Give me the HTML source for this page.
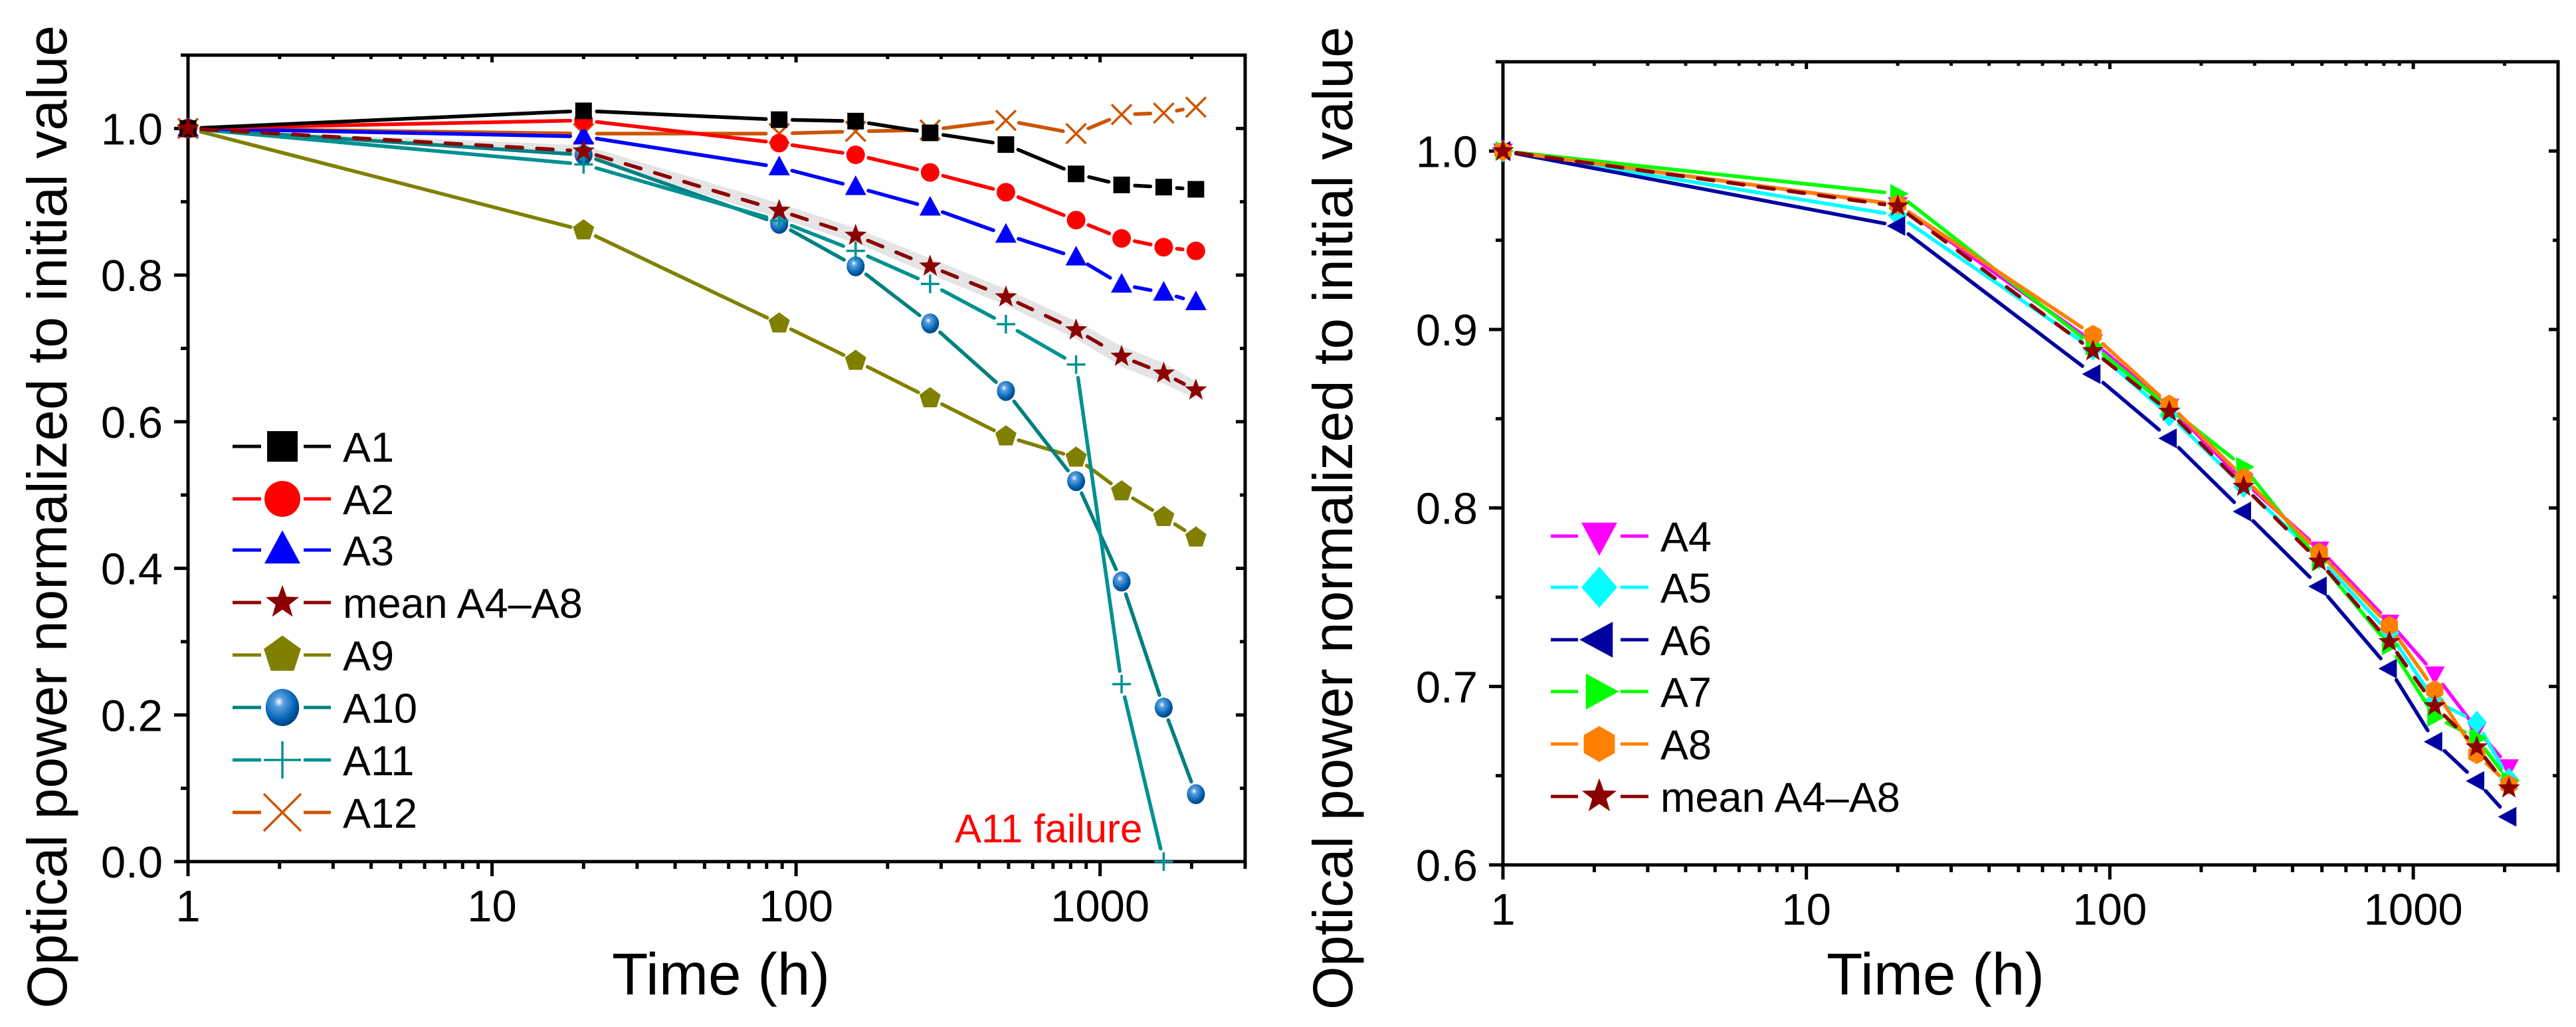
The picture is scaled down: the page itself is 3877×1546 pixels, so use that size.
<!DOCTYPE html>
<html><head><meta charset="utf-8"><style>
html,body{margin:0;padding:0;background:#fff;}
svg{display:block;font-family:"Liberation Sans",Arial,sans-serif;}
</style></head><body>
<svg id="fig" width="3877" height="1546" viewBox="0 0 3877 1546" xmlns="http://www.w3.org/2000/svg">
<defs>
<radialGradient id="sph" cx="0.4" cy="0.35" r="0.7">
<stop offset="0" stop-color="#ffffff"/><stop offset="0.2" stop-color="#5aa0e0"/><stop offset="0.7" stop-color="#0060b0"/><stop offset="1" stop-color="#003a70"/>
</radialGradient>
</defs>
<g id="left"></g>
<g id="right"></g>
</svg>
<script>
const times = [1, 20, 88, 157, 276, 490, 834, 1177, 1619, 2066];
const a1 = [1.0, 1.024, 1.012, 1.010, 0.994, 0.978, 0.938, 0.923, 0.920, 0.917];
const a2 = [1.0, 1.011, 0.980, 0.964, 0.940, 0.913, 0.875, 0.850, 0.838, 0.833];
const a3 = [1.0, 0.989, 0.947, 0.920, 0.892, 0.855, 0.824, 0.787, 0.776, 0.763];
const meanA = [1.0, 0.969, 0.888, 0.854, 0.812, 0.770, 0.725, 0.689, 0.666, 0.643];
const meanErr = [0, 0.008, 0.010, 0.010, 0.011, 0.011, 0.012, 0.014, 0.014, 0.012];
const a9 = [1.0, 0.861, 0.734, 0.683, 0.632, 0.580, 0.551, 0.505, 0.470, 0.442];
const a10 = [1.0, 0.964, 0.870, 0.812, 0.734, 0.642, 0.519, 0.382, 0.210, 0.092];
const a11 = [1.0, 0.951, 0.874, 0.833, 0.788, 0.733, 0.678, 0.242, 0.0];
const a12 = [1.0, 0.993, 0.993, 0.996, 0.998, 1.011, 0.993, 1.019, 1.021, 1.029];
const a4 = [1.0, 0.970, 0.893, 0.857, 0.815, 0.777, 0.736, 0.707, 0.676, 0.655];
const a5 = [1.0, 0.964, 0.889, 0.852, 0.812, 0.772, 0.730, 0.692, 0.680, 0.648];
const a6 = [1.0, 0.958, 0.875, 0.839, 0.798, 0.756, 0.710, 0.669, 0.647, 0.627];
const a7 = [1.0, 0.976, 0.891, 0.856, 0.823, 0.770, 0.723, 0.683, 0.671, 0.647];
const a8 = [1.0, 0.970, 0.897, 0.858, 0.817, 0.775, 0.734, 0.698, 0.662, 0.645];
const xTickLabels = ["1", "10", "100", "1000"];
const yTicksLeft = ["0.0", "0.2", "0.4", "0.6", "0.8", "1.0"];
const yTicksRight = ["0.6", "0.7", "0.8", "0.9", "1.0"];

const NS = "http://www.w3.org/2000/svg";
function mk(parent, tag, attrs, text) {
  const e = document.createElementNS(NS, tag);
  for (const k in attrs) e.setAttribute(k, attrs[k]);
  if (text !== undefined) e.textContent = text;
  parent.appendChild(e);
  return e;
}

function marker(g, type, cx, cy, s, color) {
  let e;
  const r = s / 2;
  if (type === 'square') e = mk(g, 'rect', {x: cx - r, y: cy - r, width: s, height: s, fill: color});
  else if (type === 'circle') e = mk(g, 'circle', {cx: cx, cy: cy, r: r, fill: color});
  else if (type === 'sphere') e = mk(g, 'ellipse', {cx: cx, cy: cy, rx: r * 0.9, ry: r, fill: 'url(#sph)'});
  else if (type === 'up') e = mk(g, 'polygon', {points: `${cx},${cy - r * 1.1} ${cx + r},${cy + r * 0.75} ${cx - r},${cy + r * 0.75}`, fill: color});
  else if (type === 'down') e = mk(g, 'polygon', {points: `${cx},${cy + r * 1.1} ${cx + r},${cy - r * 0.75} ${cx - r},${cy - r * 0.75}`, fill: color});
  else if (type === 'left') e = mk(g, 'polygon', {points: `${cx - r * 1.1},${cy} ${cx + r * 0.75},${cy - r} ${cx + r * 0.75},${cy + r}`, fill: color});
  else if (type === 'right') e = mk(g, 'polygon', {points: `${cx + r * 1.1},${cy} ${cx - r * 0.75},${cy - r} ${cx - r * 0.75},${cy + r}`, fill: color});
  else if (type === 'diamond') e = mk(g, 'polygon', {points: `${cx},${cy - r * 1.15} ${cx + r},${cy} ${cx},${cy + r * 1.15} ${cx - r},${cy}`, fill: color});
  else if (type === 'hex') {
    let p = [];
    for (let i = 0; i < 6; i++) { const a = Math.PI / 6 + i * Math.PI / 3; p.push((cx + r * Math.cos(a)) + ',' + (cy + r * Math.sin(a))); }
    e = mk(g, 'polygon', {points: p.join(' '), fill: color});
  } else if (type === 'pent') {
    let p = [];
    for (let i = 0; i < 5; i++) { const a = -Math.PI / 2 + i * 2 * Math.PI / 5; p.push((cx + r * 1.05 * Math.cos(a)) + ',' + (cy + r * 1.05 * Math.sin(a))); }
    e = mk(g, 'polygon', {points: p.join(' '), fill: color});
  } else if (type === 'star') {
    let p = [];
    for (let i = 0; i < 10; i++) { const a = -Math.PI / 2 + i * Math.PI / 5; const rr = i % 2 ? r * 0.45 : r * 1.1; p.push((cx + rr * Math.cos(a)) + ',' + (cy + rr * Math.sin(a))); }
    e = mk(g, 'polygon', {points: p.join(' '), fill: color});
  } else if (type === 'plus') {
    e = mk(g, 'path', {d: `M${cx - r},${cy}H${cx + r}M${cx},${cy - r}V${cy + r}`, stroke: color, 'stroke-width': 3.5, fill: 'none'});
  } else if (type === 'x') {
    e = mk(g, 'path', {d: `M${cx - r},${cy - r}L${cx + r},${cy + r}M${cx + r},${cy - r}L${cx - r},${cy + r}`, stroke: color, 'stroke-width': 3.5, fill: 'none'});
  }
  return e;
}

function chart(g, cfg) {
  const {x0, x1, y0, y1, ymin, ymax, xmax} = cfg;
  const X = t => x0 + Math.log10(t) / Math.log10(xmax) * (x1 - x0);
  const Y = v => y1 - (v - ymin) / (ymax - ymin) * (y1 - y0);
  const fr = mk(g, 'rect', {x: x0, y: y0, width: x1 - x0, height: y1 - y0, fill: 'none', stroke: '#000', 'stroke-width': 5});
  
  
  const xt = mk(g, 'g', {});
  
  
  for (let d = 0; d < 4; d++) {
    for (let m = 1; m < 10; m++) {
      const t = Math.pow(10, d) * m;
      if (t > xmax) break;
      const x = X(t);
      const major = m === 1;
      mk(xt, 'line', {x1: x, x2: x, y1: y1, y2: y1 + (major ? 22 : 11), stroke: '#000', 'stroke-width': 5});
      mk(xt, 'line', {x1: x, x2: x, y1: y0, y2: y0 + (major ? 11 : 6), stroke: '#000', 'stroke-width': 5});
    }
    const lab = mk(xt, 'text', {x: X(Math.pow(10, d)), y: y1 + 90, 'font-size': 67, 'text-anchor': 'middle'}, xTickLabels[d]);
    
    
  }
  const xtitle = mk(g, 'text', {x: cfg.xtx, y: 1497, 'font-size': 89, 'text-anchor': 'middle'}, 'Time (h)');
  
  
  const yt = mk(g, 'g', {});
  
  
  const labs = cfg.yLabels;
  const step = cfg.ystep;
  for (let v = ymin; v <= ymax + 1e-9; v += step / 2) {
    const y = Y(v);
    const k = Math.round((v - ymin) / (step / 2));
    const major = k % 2 === 0;
    mk(yt, 'line', {x1: x0 - (major ? 21 : 11), x2: x0, y1: y, y2: y, stroke: '#000', 'stroke-width': 5});
    mk(yt, 'line', {x1: x1 - (major ? 14 : 8), x2: x1, y1: y, y2: y, stroke: '#000', 'stroke-width': 5});
    if (major && labs[k / 2] !== undefined) {
      const l = mk(yt, 'text', {x: x0 - 38, y: y + 24, 'font-size': 67, 'text-anchor': 'end'}, labs[k / 2]);
      
      
    }
  }
  const ytitle = mk(g, 'text', {x: 0, y: 0, 'font-size': 84, 'text-anchor': 'middle', transform: `translate(${cfg.ytx},${cfg.yty}) rotate(-90)`}, 'Optical power normalized to initial value');
  
  
  return {X, Y};
}

function series(g, ax, name, vals, color, mtype, ms, dash) {
  const sg = mk(g, 'g', {});
  
  
  const gap = 20;
  for (let i = 0; i < vals.length - 1; i++) {
    const xa = ax.X(times[i]), ya = ax.Y(vals[i]), xb = ax.X(times[i + 1]), yb = ax.Y(vals[i + 1]);
    const L = Math.hypot(xb - xa, yb - ya);
    if (L <= 2 * gap + 2) continue;
    const ux = (xb - xa) / L, uy = (yb - ya) / L;
    const seg = mk(sg, 'line', {x1: xa + ux * gap, y1: ya + uy * gap, x2: xb - ux * gap, y2: yb - uy * gap, stroke: color, 'stroke-width': 5.5, 'stroke-linecap': 'round'});
    if (dash) seg.setAttribute('stroke-dasharray', '24 22');
  }
  vals.forEach((v, i) => {
    const m = marker(sg, mtype, ax.X(times[i]), ax.Y(v), ms, color);
    
    
  });
}

function legend(g, items, lx0, lx1, mx, tx, ys) {
  const lg = mk(g, 'g', {});
  
  
  items.forEach((it, i) => {
    const eg = mk(lg, 'g', {});
    
    
    const y = ys[i];
    mk(eg, 'line', {x1: lx0, x2: mx - 32, y1: y, y2: y, stroke: it.c, 'stroke-width': 5});
    mk(eg, 'line', {x1: mx + 32, x2: lx1, y1: y, y2: y, stroke: it.c, 'stroke-width': 5});
    marker(eg, it.m, mx, y, it.s, it.c);
    mk(eg, 'text', {x: tx, y: y + 23, 'font-size': 63}, it.n);
  });
}

// LEFT
const L = document.getElementById('left');
const axL = chart(L, {x0: 283, x1: 1874, y0: 83, y1: 1297, ymin: 0, ymax: 1.1, xmax: 3000, ystep: 0.2, yLabels: yTicksLeft, ytx: 100, yty: 778, xtx: 1085});
const band = mk(L, 'polygon', {
  points: meanA.map((v, i) => axL.X(times[i]) + ',' + axL.Y(v + meanErr[i])).concat(meanA.map((v, i) => axL.X(times[i]) + ',' + axL.Y(v - meanErr[i])).reverse()).join(' '),
  fill: '#e4e4e4'
});


series(L, axL, 'a9', a9, '#808000', 'pent', 32);
series(L, axL, 'a10', a10, '#008080', 'sphere', 30);
series(L, axL, 'a11', a11, '#009090', 'plus', 28);
series(L, axL, 'a12', a12, '#CC5500', 'x', 30);
series(L, axL, 'a3', a3, '#0000FF', 'up', 32);
series(L, axL, 'a2', a2, '#FF0000', 'circle', 28);
series(L, axL, 'a1', a1, '#000000', 'square', 25);
series(L, axL, 'mean', meanA, '#8B0000', 'star', 32, true);
legend(L, [
  {n: 'A1', c: '#000', m: 'square', s: 46},
  {n: 'A2', c: '#FF0000', m: 'circle', s: 54},
  {n: 'A3', c: '#0000FF', m: 'up', s: 54},
  {n: 'mean A4–A8', c: '#8B0000', m: 'star', s: 48},
  {n: 'A9', c: '#808000', m: 'pent', s: 56},
  {n: 'A10', c: '#008080', m: 'sphere', s: 56},
  {n: 'A11', c: '#009090', m: 'plus', s: 56},
  {n: 'A12', c: '#CC5500', m: 'x', s: 56}
], 350, 498, 425, 516, [672, 751, 828, 907, 986, 1065, 1144, 1223]);
const fail = mk(L, 'text', {x: 1437, y: 1268, 'font-size': 60, fill: '#FF0000'}, 'A11 failure');



// RIGHT
const R = document.getElementById('right');
const axR = chart(R, {x0: 2262, x1: 3850, y0: 93, y1: 1302, ymin: 0.6, ymax: 1.05, xmax: 3000, ystep: 0.1, yLabels: yTicksRight, ytx: 2035, yty: 780, xtx: 2913});
series(R, axR, 'a4', a4, '#FF00FF', 'down', 30);
series(R, axR, 'a5', a5, '#00FFFF', 'diamond', 30);
series(R, axR, 'a6', a6, '#0000A0', 'left', 30);
series(R, axR, 'a7', a7, '#00FF00', 'right', 30);
series(R, axR, 'a8', a8, '#FF8000', 'hex', 30);
series(R, axR, 'mean', meanA, '#8B0000', 'star', 32, true);
legend(R, [
  {n: 'A4', c: '#FF00FF', m: 'down', s: 54},
  {n: 'A5', c: '#00FFFF', m: 'diamond', s: 54},
  {n: 'A6', c: '#0000A0', m: 'left', s: 54},
  {n: 'A7', c: '#00FF00', m: 'right', s: 54},
  {n: 'A8', c: '#FF8000', m: 'hex', s: 54},
  {n: 'mean A4–A8', c: '#8B0000', m: 'star', s: 50}
], 2334, 2481, 2407, 2499, [807, 884, 963, 1041, 1120, 1199]);
</script>
</body></html>
